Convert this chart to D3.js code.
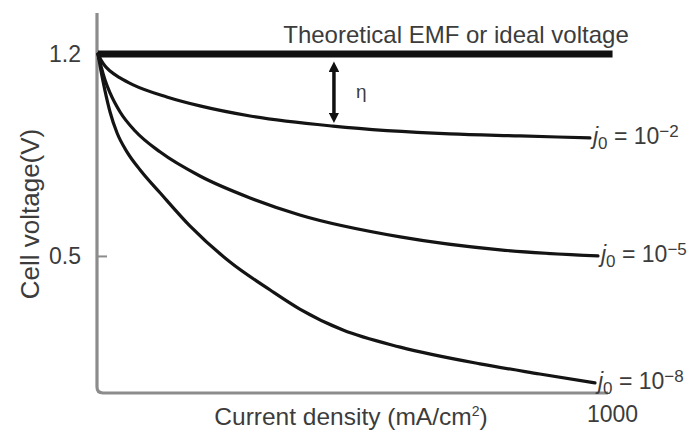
<!DOCTYPE html>
<html>
<head>
<meta charset="utf-8">
<script src="https://cdn.jsdelivr.net/npm/d3@7"></script>
<style>
  html, body { margin: 0; padding: 0; background: #fff; }
  svg { display: block; }
  text { font-family: "Liberation Sans", Arial, Helvetica, sans-serif; fill: #3c3c3c; }
</style>
</head>
<body>
<svg id="chart" width="697" height="432"></svg>
<script>
// Polarisation curves: cell voltage vs current density for three exchange current densities
const currentDensity10m2 = [0, 6, 14, 24, 44, 70, 137, 203, 303, 468, 701, 841, 980];
const voltage10m2        = [1.2, 1.179, 1.158, 1.141, 1.117, 1.093, 1.051, 1.020, 0.985, 0.950, 0.923, 0.916, 0.909];

const currentDensity10m5 = [0, 6, 14, 24, 44, 74, 124, 203, 303, 402, 602, 801, 996];
const voltage10m5        = [1.2, 1.158, 1.110, 1.065, 0.999, 0.933, 0.860, 0.777, 0.701, 0.642, 0.566, 0.521, 0.500];

const currentDensity10m8 = [0, 6, 14, 24, 38, 58, 84, 124, 183, 263, 343, 402, 488, 602, 761, 880, 990];
const voltage10m8        = [1.2, 1.141, 1.072, 0.999, 0.926, 0.860, 0.798, 0.718, 0.604, 0.479, 0.382, 0.316, 0.243, 0.184, 0.126, 0.091, 0.060];

const exponents = [-2, -5, -8];

// Ideal (theoretical EMF) voltage line
const emfVoltage = 1.2;
const emfCurrentRange = [0, 1025];
const emfLabel = "Theoretical EMF or ideal voltage";

// Overpotential marker
const etaCurrent = 470;
const etaVoltageRange = [1.17, 0.965];
const etaLabel = "η";

// Axes
const yTickValues = [0.5, 1.2];
const xTickValues = [1000];
const xDomain = [0, 1000];
const xAxisEnd = 1016;
const yDomain = [0.025, 1.342];
const xTitle = "Current density (mA/cm";
const yTitle = "Cell voltage(V)";

const series = [
  { exp: exponents[0], xs: currentDensity10m2, ys: voltage10m2 },
  { exp: exponents[1], xs: currentDensity10m5, ys: voltage10m5 },
  { exp: exponents[2], xs: currentDensity10m8, ys: voltage10m8 }
];

const svg = d3.select("#chart");

const x = d3.scaleLinear().domain(xDomain).range([98, 600]);
const y = d3.scaleLinear().domain(yDomain).range([393, 13]);

// Axis frame with a rounded corner
const axX = x(0) - 1, axTop = y(yDomain[1]), axBot = y(yDomain[0]), axRight = x(xAxisEnd), rad = 6;
svg.append("path")
  .attr("d", `M${axX},${axTop} V${axBot - rad} Q${axX},${axBot} ${axX + rad},${axBot} H${axRight}`)
  .attr("fill", "none")
  .attr("stroke", "#8c8c8c")
  .attr("stroke-width", 3.2);

// Y axis ticks and labels
const yAxis = svg.append("g")
  .attr("transform", `translate(${axX},0)`)
  .call(d3.axisLeft(y).tickValues(yTickValues).tickSize(-10).tickPadding(16)
        .tickFormat(d3.format(".1f")));
yAxis.select(".domain").remove();
yAxis.selectAll(".tick line").attr("stroke", "#8c8c8c").attr("stroke-width", 2);
yAxis.selectAll(".tick text")
  .attr("font-size", 23)
  .attr("fill", "#3c3c3c")
  .style("font-family", "'Liberation Sans', Arial, sans-serif");

// X axis tick label
const xAxis = svg.append("g")
  .attr("transform", `translate(0,${axBot})`)
  .call(d3.axisBottom(x).tickValues(xTickValues).tickSize(0).tickPadding(13)
        .tickFormat(d3.format("d")));
xAxis.select(".domain").remove();
xAxis.selectAll(".tick text")
  .attr("font-size", 23)
  .attr("dx", 12)
  .attr("fill", "#3c3c3c")
  .style("font-family", "'Liberation Sans', Arial, sans-serif");

// Axis titles
const xt = svg.append("text")
  .attr("x", 351).attr("y", 425)
  .attr("text-anchor", "middle")
  .attr("font-size", 24.5);
xt.append("tspan").text(xTitle);
xt.append("tspan").attr("font-size", 14).attr("dy", -9).text("2");
xt.append("tspan").attr("dy", 9).text(")");

svg.append("text")
  .attr("transform", "translate(39,214) rotate(-90)")
  .attr("text-anchor", "middle")
  .attr("font-size", 26)
  .text(yTitle);

// Theoretical EMF line
svg.append("line")
  .attr("x1", x(emfCurrentRange[0])).attr("x2", x(emfCurrentRange[1]))
  .attr("y1", y(emfVoltage)).attr("y2", y(emfVoltage))
  .attr("stroke", "#111")
  .attr("stroke-width", 7);

svg.append("text")
  .attr("x", 456).attr("y", 43)
  .attr("text-anchor", "middle")
  .attr("font-size", 24)
  .text(emfLabel);

// Polarisation curves
const line = d3.line()
  .x(d => x(d[0]))
  .y(d => y(d[1]))
  .curve(d3.curveMonotoneX);

series.forEach(s => {
  const pts = s.xs.map((v, i) => [v, s.ys[i]]);
  svg.append("path")
    .attr("d", line(pts))
    .attr("fill", "none")
    .attr("stroke", "#141414")
    .attr("stroke-width", 3.2)
    .attr("stroke-linecap", "round");

  const last = pts[pts.length - 1];
  const t = svg.append("text")
    .attr("x", x(last[0]) + 3)
    .attr("y", y(last[1]) + 6)
    .attr("font-size", 23);
  t.append("tspan").attr("font-style", "italic").text("j");
  t.append("tspan").attr("font-size", 17).attr("dy", 5).text("0");
  t.append("tspan").attr("dy", -5).text(" = 10");
  t.append("tspan").attr("font-size", 17).attr("dy", -7).text("\u2212" + Math.abs(s.exp));
});

// Overpotential double arrow
const defs = svg.append("defs");
defs.append("marker")
  .attr("id", "head")
  .attr("viewBox", "0 0 10 10")
  .attr("refX", 5).attr("refY", 5)
  .attr("markerWidth", 3).attr("markerHeight", 3)
  .attr("orient", "auto-start-reverse")
  .append("path")
  .attr("d", "M0,0 L10,5 L0,10 Z")
  .attr("fill", "#111");

svg.append("line")
  .attr("x1", x(etaCurrent)).attr("x2", x(etaCurrent))
  .attr("y1", y(etaVoltageRange[0]) + 4).attr("y2", y(etaVoltageRange[1]) - 4)
  .attr("stroke", "#111")
  .attr("stroke-width", 3.5)
  .attr("marker-start", "url(#head)")
  .attr("marker-end", "url(#head)");

svg.append("text")
  .attr("x", x(etaCurrent) + 22)
  .attr("y", y((etaVoltageRange[0] + etaVoltageRange[1]) / 2) + 6)
  .attr("font-size", 19)
  .attr("fill", "#4a5266")
  .text(etaLabel);
</script>
</body>
</html>
